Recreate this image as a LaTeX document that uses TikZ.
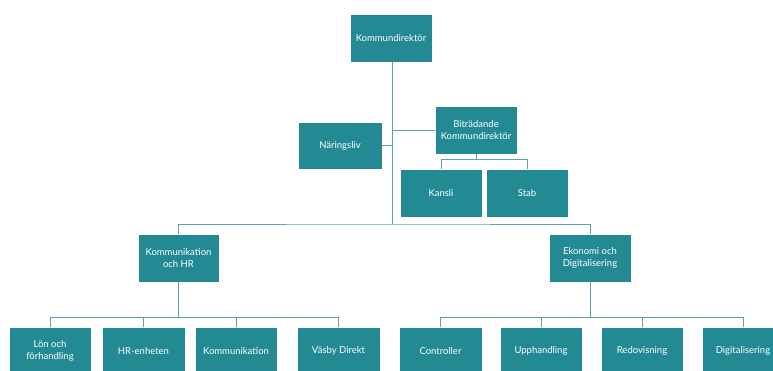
\documentclass[tikz,border=0pt]{standalone}
\usepackage{fontspec}
\setmainfont{Lato}
\definecolor{boxteal}{HTML}{238A94}
\definecolor{lineteal}{HTML}{5AA3AA}
\begin{document}
\begin{tikzpicture}[x=1pt,y=-1pt,
  orgbox/.style={fill=boxteal,draw=white,line width=0.6pt,text=white,align=center,
    font=\fontsize{9.5}{12.5}\selectfont,inner sep=0pt},
  link/.style={draw=lineteal,line width=1pt}]
\useasboundingbox (0,0) rectangle (773,370);
\clip (0,0) rectangle (773,370);
% boxes
\node[orgbox,minimum width=82pt,minimum height=48pt] (kd) at (391,38) {Kommundirektör};
\node[orgbox,minimum width=84pt,minimum height=47pt] (nl) at (340,145.5) {Näringsliv};
\node[orgbox,minimum width=82pt,minimum height=48pt] (bk) at (476,130) {Biträdande\\Kommundirektör};
\node[orgbox,minimum width=82pt,minimum height=48pt] (ka) at (441,193) {Kansli};
\node[orgbox,minimum width=82pt,minimum height=48pt] (st) at (527,193) {Stab};
\node[orgbox,minimum width=81pt,minimum height=48pt] (khr) at (178.5,258) {Kommunikation\\och HR};
\node[orgbox,minimum width=82pt,minimum height=48pt] (ed) at (590,258) {Ekonomi och\\Digitalisering};
\node[orgbox,minimum width=82pt,minimum height=48pt] (lon) at (50,351) {Lön och\\förhandling};
\node[orgbox,minimum width=83pt,minimum height=48pt] (hre) at (143.5,351) {HR-enheten};
\node[orgbox,minimum width=82pt,minimum height=48pt] (kom) at (236,351) {Kommunikation};
\node[orgbox,minimum width=83pt,minimum height=48pt] (vd) at (338.5,351) {Väsby Direkt};
\node[orgbox,minimum width=83pt,minimum height=48pt] (con) at (440.5,351) {Controller};
\node[orgbox,minimum width=82pt,minimum height=48pt] (upp) at (541,351) {Upphandling};
\node[orgbox,minimum width=82pt,minimum height=48pt] (red) at (642,351) {Redovisning};
\node[orgbox,minimum width=82pt,minimum height=48pt] (dig) at (743,351) {Digitalisering};
% connectors
\coordinate (trunk) at (392,224);
\draw[link] (kd.south) ++(1,0) |- (trunk);
\draw[link] (nl.east) -- (nl.east -| trunk);
\draw[link] (bk.west) -- (bk.west -| trunk);
\draw[link] (bk.south) -- ++(0,5) coordinate (bkm) -| (ka.north);
\draw[link] (bkm) -| (st.north);
\draw[link] (khr.north) |- (trunk) -| (ed.north);
\draw[link] (khr.south) -- ++(0,35) coordinate (khrm) -| (lon.north);
\draw[link] (khrm) -| (hre.north);
\draw[link] (khrm) -| (kom.north);
\draw[link] (khrm) -| (vd.north);
\draw[link] (ed.south) -- ++(0,35) coordinate (edm) -| (con.north);
\draw[link] (edm) -| (upp.north);
\draw[link] (edm) -| (red.north);
\draw[link] (edm) -| (dig.north);
\end{tikzpicture}
\end{document}
